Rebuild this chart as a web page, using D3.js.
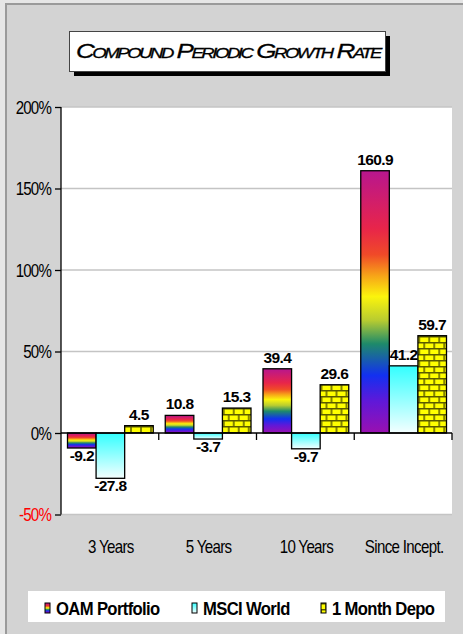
<!DOCTYPE html>
<html>
<head>
<meta charset="utf-8">
<script src="https://cdn.jsdelivr.net/npm/d3@7"></script>
<style>
  body { margin: 0; background: #e6e6e6; }
  svg { display: block; }
</style>
</head>
<body>
<script>
// chart data
var categories = ["3 Years", "5 Years", "10 Years", "Since Incept."];
var seriesNames = ["OAM Portfolio", "MSCI World", "1 Month Depo"];
var oam = [-9.2, 10.8, 39.4, 160.9];
var msci = [-27.8, -3.7, -9.7, 41.2];
var depo = [4.5, 15.3, 29.6, 59.7];
var yTicks = [-50, 0, 50, 100, 150, 200];

function draw() {
  "use strict";
  var width = 463, height = 634;
  var font = "'Liberation Sans', Arial, sans-serif";
  var squeeze = 0.84; // fake a narrow face, none is installed
  var svg = d3.select("body").append("svg")
      .attr("width", width)
      .attr("height", height);

  var defs = svg.append("defs");

  // rainbow gradient for the portfolio bars
  var rainbow = defs.append("linearGradient")
      .attr("id", "rainbow")
      .attr("x1", 0).attr("y1", 0).attr("x2", 0).attr("y2", 1);
  [[0, "#b8168e"], [0.22, "#e8254a"], [0.32, "#f04a28"], [0.4, "#f7a418"],
   [0.48, "#fbf40c"], [0.57, "#b8cc30"], [0.66, "#1e8a6a"], [0.78, "#1230f0"],
   [0.88, "#6018d8"], [1, "#9a10b0"]].forEach(function (s) {
    rainbow.append("stop").attr("offset", s[0]).attr("stop-color", s[1]);
  });

  // cyan fade for MSCI
  var cyan = defs.append("linearGradient")
      .attr("id", "cyan")
      .attr("x1", 0).attr("y1", 0).attr("x2", 0).attr("y2", 1);
  cyan.append("stop").attr("offset", 0).attr("stop-color", "#33ffff");
  cyan.append("stop").attr("offset", 1).attr("stop-color", "#f4ffff");

  // yellow bricks for deposit
  var brick = defs.append("pattern")
      .attr("id", "brick")
      .attr("patternUnits", "userSpaceOnUse")
      .attr("width", 20).attr("height", 12);
  brick.append("rect").attr("width", 20).attr("height", 12).attr("fill", "#ffff00");
  brick.append("path")
      .attr("d", "M0,0.75H20M0,6.75H20M5,0V6M15,0V6M0,6V12M10,6V12M20,6V12")
      .attr("stroke", "#5a5a00")
      .attr("stroke-width", 1.5)
      .attr("fill", "none");

  // outer frame
  svg.append("rect")
      .attr("x", 6).attr("y", 4)
      .attr("width", width).attr("height", height)
      .attr("fill", "#d3d3d3")
      .attr("stroke", "#9a9a9a")
      .attr("stroke-width", 2);

  // title box with shadow
  svg.append("rect").attr("x", 74).attr("y", 36).attr("width", 316).attr("height", 40).attr("fill", "#000");
  svg.append("rect").attr("x", 69.5).attr("y", 31.5).attr("width", 316).attr("height", 40)
      .attr("fill", "#fff").attr("stroke", "#444").attr("stroke-width", 1);
  svg.append("text")
      .attr("x", 76).attr("y", 58)
      .attr("textLength", 304)
      .attr("lengthAdjust", "spacingAndGlyphs")
      .style("font-family", font)
      .style("font-style", "italic")
      .style("font-variant", "small-caps")
      .style("font-size", "21px")
      .style("stroke", "#000")
      .style("stroke-width", 0.3)
      .style("letter-spacing", "-2px")
      .text("Compound Periodic Growth Rate");

  // plot area
  var pl = 61, pr = 452, pt = 107, pb = 514.5;

  var y = d3.scaleLinear().domain([-50, 200]).range([pb, pt]);
  var x0 = d3.scaleBand().domain(categories).range([pl, pr]);
  var x1 = d3.scaleBand().domain(seriesNames).range([6.5, x0.bandwidth() - 5.5]);

  svg.append("rect")
      .attr("x", pl).attr("y", pt)
      .attr("width", pr - pl).attr("height", pb - pt)
      .attr("fill", "#fff");

  // gridlines
  svg.append("g").selectAll("line")
    .data(yTicks.filter(function (d) { return d !== 0; }))
    .enter().append("line")
      .attr("x1", pl).attr("x2", pr)
      .attr("y1", function (d) { return y(d); })
      .attr("y2", function (d) { return y(d); })
      .attr("stroke", "#c4c4c4")
      .attr("stroke-width", 1.5);

  // bars
  var table = categories.map(function (c, i) {
    return { cat: c, vals: [oam[i], msci[i], depo[i]] };
  });
  var fills = ["url(#rainbow)", "url(#cyan)", "url(#brick)"];

  var groups = svg.append("g").selectAll("g")
    .data(table)
    .enter().append("g")
      .attr("transform", function (d) { return "translate(" + x0(d.cat) + ",0)"; });

  function items(d) { return d.vals.map(function (v, k) { return { v: v, k: k }; }); }

  groups.selectAll("rect")
    .data(items)
    .enter().append("rect")
      .attr("x", function (d) { return x1(seriesNames[d.k]); })
      .attr("width", x1.bandwidth())
      .attr("y", function (d) { return y(Math.max(0, d.v)); })
      .attr("height", function (d) { return Math.abs(y(d.v) - y(0)); })
      .attr("fill", function (d) { return fills[d.k]; })
      .attr("stroke", "#000")
      .attr("stroke-width", 1.3);

  groups.selectAll("text")
    .data(items)
    .enter().append("text")
      .attr("x", function (d) { return x1(seriesNames[d.k]) + x1.bandwidth() / 2; })
      .attr("y", function (d) { return d.v >= 0 ? y(d.v) - 6 : y(d.v) + 13; })
      .attr("text-anchor", "middle")
      .style("font-family", font)
      .style("font-weight", "bold")
      .style("font-size", "15.5px")
      .style("letter-spacing", "-0.6px")
      .text(function (d) { return d.v.toFixed(1); });

  // y axis
  var yAxis = svg.append("g").attr("transform", "translate(" + pl + ",0)")
    .call(d3.axisLeft(y).tickValues(yTicks).tickSize(6).tickPadding(4)
          .tickFormat(function (d) { return d + "%"; }));
  yAxis.select(".domain").attr("stroke", "#000").attr("stroke-width", 1.3)
      .attr("d", "M0," + pt + "V" + pb);
  yAxis.selectAll(".tick line").attr("stroke", "#000").attr("stroke-width", 1.3);
  yAxis.selectAll(".tick text")
      .attr("x", -10 / squeeze)
      .attr("transform", "scale(" + squeeze + ",1)")
      .style("font-family", font)
      .style("font-size", "18px")
      .style("letter-spacing", "-1px")
      .attr("fill", function (d) { return d < 0 ? "#ff0000" : "#000"; })
      .attr("dy", "0.35em");

  // x axis along zero
  var xAxis = svg.append("g").attr("transform", "translate(0," + y(0) + ")");
  xAxis.append("line")
      .attr("x1", pl).attr("x2", pr)
      .attr("stroke", "#000").attr("stroke-width", 1.3);
  xAxis.selectAll(".tk")
    .data(categories)
    .enter().append("line")
      .attr("class", "tk")
      .attr("x1", function (d) { return x0(d) + x0.bandwidth(); })
      .attr("x2", function (d) { return x0(d) + x0.bandwidth(); })
      .attr("y1", 0).attr("y2", 7)
      .attr("stroke", "#000").attr("stroke-width", 1.3);

  // category labels
  svg.append("g").selectAll("text")
    .data(categories)
    .enter().append("text")
      .attr("transform", function (d) {
        return "translate(" + (x0(d) + x0.bandwidth() / 2 + 1) + ",553) scale(" + squeeze + ",1)";
      })
      .attr("text-anchor", "middle")
      .style("font-family", font)
      .style("font-size", "18px")
      .style("letter-spacing", "-0.8px")
      .text(function (d) { return d; });

  // legend
  var legend = svg.append("g");
  legend.append("rect")
      .attr("x", 28).attr("y", 591)
      .attr("width", 417).attr("height", 31)
      .attr("fill", "#fff");
  var legendX = [45, 192, 321];
  var legendItems = legend.selectAll("g")
    .data(seriesNames)
    .enter().append("g")
      .attr("transform", function (d, i) { return "translate(" + legendX[i] + ",603)"; });
  legendItems.append("rect")
      .attr("width", 5).attr("height", 10)
      .attr("fill", function (d, i) { return fills[i]; })
      .attr("stroke", "#000").attr("stroke-width", 1);
  legendItems.append("text")
      .attr("transform", "translate(11,12) scale(0.9,1)")
      .style("font-family", font)
      .style("font-size", "18.5px")
      .style("font-weight", "bold")
      .style("letter-spacing", "-0.7px")
      .text(function (d) { return d; });
}

draw();
</script>
</body>
</html>
